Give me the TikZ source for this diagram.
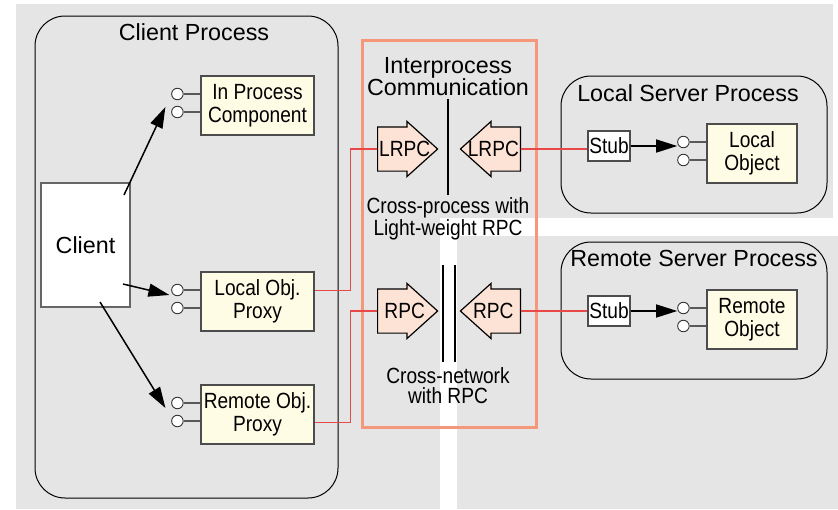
\documentclass[tikz,border=0pt]{standalone}
\usepackage{fontspec}
\setmainfont{Liberation Sans}
\newfontfamily\narrowfont{Liberation Sans}[FakeStretch=0.87]
\usetikzlibrary{calc,shapes.arrows,arrows.meta}
\definecolor{bggray}{HTML}{E5E5E5}
\definecolor{cream}{HTML}{FFFCE6}
\definecolor{peach}{HTML}{FDE2D6}
\definecolor{ipcorange}{HTML}{F4977B}
\definecolor{linkred}{HTML}{E84848}
\tikzset{
% Process frames and their headings
proc/.style={draw=black,line width=1pt,rounded corners=30pt},
hd/.style={font={\fontsize{23.3}{20}\selectfont},align=center,inner sep=0pt},
% Component boxes, ports and stubs
comp box/.style={draw=black!70,fill=cream,line width=1.2pt,minimum width=113pt,minimum height=59pt,
  align=center,inner sep=0pt,font={\narrowfont\fontsize{22}{23.5}\selectfont}},
port/.style={circle,draw=black!80,fill=white,line width=0.9pt,minimum size=11.5pt,inner sep=0pt},
lead/.style={draw=black!65,line width=1.2pt},
stub box/.style={draw=black!70,fill=white,line width=1.2pt,minimum width=42pt,minimum height=30pt,
  inner sep=0pt,font={\narrowfont\fontsize{22}{23.5}\selectfont}},
narrow text/.style={align=center,inner sep=0pt,font={\narrowfont\fontsize{22}{20}\selectfont}},
% Block arrows for the calls
blk arrow/.style={single arrow,draw=black,line width=1.2pt,fill=peach,minimum height=60pt,
  text height=0pt,text depth=0pt,inner xsep=0pt,inner ysep=21.5pt,
  single arrow head extend=5.5pt,single arrow tip angle=84,anchor=tail},
arr/.style={-{Triangle[length=21pt,width=13pt]},line width=1.5pt},
ipc link/.style={draw=linkred,line width=1.4pt},
sep/.style={draw=black,line width=1.3pt}
}
\begin{document}
\begin{tikzpicture}[x=1pt,y=-1pt]
\useasboundingbox (0,0) rectangle (838,509);
% background panels
\fill[bggray] (16,4) rectangle (440,509);
\fill[bggray] (440,4) rectangle (833,218);
\fill[bggray] (457,236) rectangle (838,509);
% Client process
\draw[proc] (35,16) rectangle (338,498);
\node[hd] (cpt) at (194,32.5) {Client Process};
\node[draw=black!60,fill=white,line width=1.2pt,minimum width=89pt,minimum height=124pt,
  font={\fontsize{23.3}{20}\selectfont}] (client) at (85.5,245) {Client};
\node[comp box] (ipc) at (257.5,105.5) {In Process\\Component};
\node[comp box] (lop) at (257.5,301.5) {Local Obj.\\Proxy};
\node[comp box] (rop) at (257.5,414.5) {Remote Obj.\\Proxy};
% Server processes
\draw[proc] (561,76) rectangle (827,213);
\node[hd] (lspt) at (688,93) {Local Server Process};
\draw[proc] (561,242) rectangle (827,379);
\node[hd] (rspt) at (694,258.7) {Remote Server Process};
\node[comp box,minimum width=90pt] (lob) at (752,153.5) {Local\\Object};
\node[comp box,minimum width=90pt] (rob) at (752,319.5) {Remote\\Object};
\node[stub box] (stubL) at (609,146) {Stub};
\node[stub box] (stubR) at (609,311) {Stub};
% interface ports
\foreach \b in {ipc,lop,rop,lob,rob}{
  \node[port] (\b1) at ($(\b.west)+(-23,-11.5)$) {};
  \node[port] (\b2) at ($(\b.west)+(-23,6.5)$) {};
  \draw[lead] (\b1) -- (\b1 -| \b.west);
  \draw[lead] (\b2) -- (\b2 -| \b.west);
}
% calls from the client
\coordinate (c1) at (124,195);
\coordinate (c2) at (123,284);
\coordinate (c3) at (100,302);
\coordinate (e1) at ($(ipc2)+(-12,-5)$);
\coordinate (e2) at ($(lop1)+(-8,5)$);
\coordinate (e3) at ($(rop1)+(-12,5)$);
\draw[arr] (c1) -- (e1);
\draw[arr] (c2) -- (e2);
\draw[arr] (c3) -- (e3);
% Interprocess communication
\draw[draw=ipcorange,line width=3pt] (362,40) rectangle (536,427);
\node[hd] (ipct) at (448,76.6) {Interprocess\\Communication};
\draw[sep] (448,99) -- (448,195);
\draw[sep] (443,265) -- (443,362);
\draw[sep] (455,265) -- (455,362);
\node[narrow text] (lwt) at (448,219) {Cross-process with\\Light-weight RPC};
\node[narrow text] (cnt) at (448,385.5) {Cross-network\\with RPC};
\node[blk arrow] (lrpcA) at (377,149) {};
\node[blk arrow,shape border rotate=180] (lrpcB) at (521,149) {};
\node[blk arrow] (rpcA) at (377,311) {};
\node[blk arrow,shape border rotate=180] (rpcB) at (521,311) {};
\foreach \a/\t in {lrpcA/LRPC,lrpcB/LRPC,rpcA/RPC,rpcB/RPC}
  \node[narrow text] (\a t) at ($(\a.tip)!0.55!(\a.tail)$) {\t};
% links
\draw[ipc link] ($(lop.east)+(0,-11)$) -- ++(36,0) |- (lrpcA.tail);
\draw[ipc link] ($(rop.east)+(0,8)$) -- ++(36,0) |- (rpcA.tail);
\draw[ipc link] (lrpcB.tail) -- (lrpcB.tail -| stubL.west);
\draw[ipc link] (rpcB.tail) -- (rpcB.tail -| stubR.west);
\draw[arr] (stubL.east) -- (stubL.east -| lob1.west);
\draw[arr] (stubR.east) -- (stubR.east -| rob1.west);
\end{tikzpicture}
\end{document}
